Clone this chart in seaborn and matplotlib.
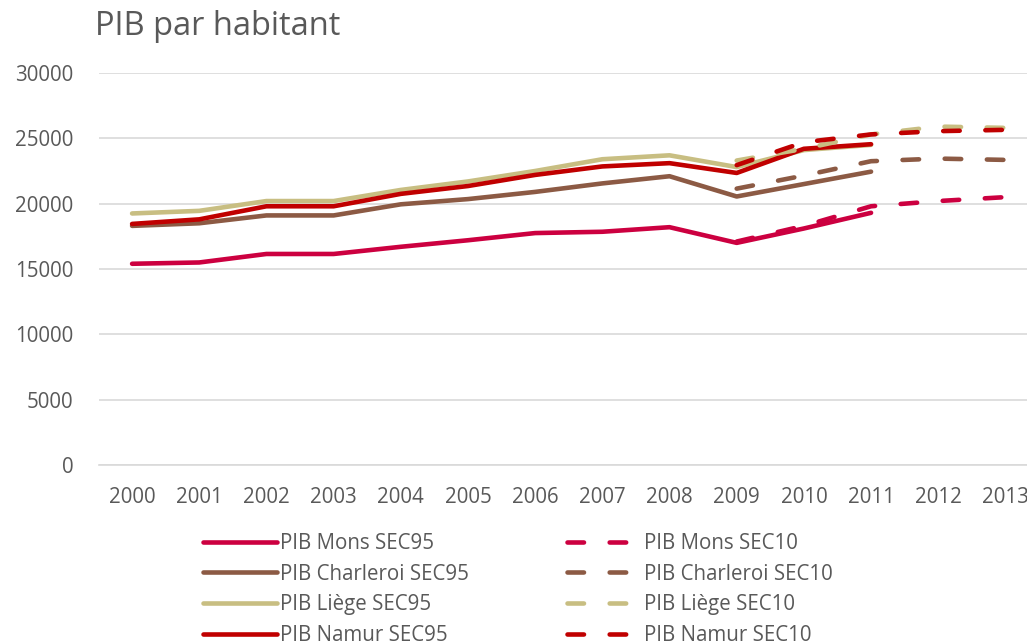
import matplotlib
matplotlib.use("Agg")
from matplotlib import pyplot as plt
import seaborn as sns
import numpy as np
import pandas as pd

years = [str(y) for y in range(2000, 2014)]
nan = np.nan

mons_sec95 = [15400, 15500, 16150, 16150, 16700, 17200, 17750, 17850, 18200, 17000, 18100, 19300, nan, nan]
charleroi_sec95 = [18300, 18500, 19100, 19100, 19950, 20350, 20900, 21550, 22100, 20550, 21500, 22450, nan, nan]
liege_sec95 = [19250, 19450, 20200, 20200, 21050, 21700, 22500, 23400, 23700, 22800, 24100, 24500, nan, nan]
namur_sec95 = [18450, 18800, 19800, 19800, 20750, 21350, 22200, 22850, 23100, 22350, 24200, 24550, nan, nan]

mons_sec10 = [nan] * 9 + [17100, 18300, 19800, 20200, 20500]
charleroi_sec10 = [nan] * 9 + [21150, 22150, 23250, 23450, 23350]
liege_sec10 = [nan] * 9 + [23300, 24200, 25300, 25900, 25800]
namur_sec10 = [nan] * 9 + [22950, 24700, 25300, 25550, 25650]

series = [
    ("PIB Mons SEC95", mons_sec95, "#CC0040", False),
    ("PIB Charleroi SEC95", charleroi_sec95, "#8C5A44", False),
    ("PIB Liège SEC95", liege_sec95, "#C8BE82", False),
    ("PIB Namur SEC95", namur_sec95, "#C00000", False),
    ("PIB Mons SEC10", mons_sec10, "#CC0040", True),
    ("PIB Charleroi SEC10", charleroi_sec10, "#8C5A44", True),
    ("PIB Liège SEC10", liege_sec10, "#C8BE82", True),
    ("PIB Namur SEC10", namur_sec10, "#C00000", True),
]

sns.set_theme(style="white")
plt.rcParams['font.family'] = ['Open Sans', 'DejaVu Sans']
grey = "#595959"
fs = 14.8

fig = plt.figure(figsize=(10.27, 6.44), dpi=100)
# plot area runs past the right edge, as in the original (last label is cut)
ax = fig.add_axes([98.5 / 1027, 1 - 465 / 644, (1039 - 98.5) / 1027, (465 - 73) / 644])

x = np.arange(len(years))
for name, vals, col, dashed in series:
    df = pd.DataFrame({"x": x, "y": vals}).dropna()
    sns.lineplot(data=df, x="x", y="y", ax=ax, color=col, lw=3.3, label=name,
                 solid_capstyle="round", dash_capstyle="round")
    if dashed:
        ax.lines[-1].set_dashes((3.6, 5.6))

ax.set_xlim(-0.5, len(years) - 0.5)
ax.set_ylim(0, 30000)
ax.set_yticks(np.arange(0, 30001, 5000))
ax.set_xticks(x)
ax.set_xticklabels(years)
ax.set_xlabel("")
ax.set_ylabel("")
ax.yaxis.grid(True, color="#D9D9D9", lw=1.2)
ax.set_axisbelow(True)
for s in ["top", "right", "left"]:
    ax.spines[s].set_visible(False)
ax.spines["bottom"].set_color("#D9D9D9")
ax.spines["bottom"].set_linewidth(1.2)
ax.tick_params(axis="both", length=0, labelsize=fs, colors=grey)
ax.tick_params(axis="y", pad=18)
ax.tick_params(axis="x", pad=15.5)

fig.text(95 / 1027, 1 - 35 / 644, "PIB par habitant", fontsize=23.5, color=grey, va="baseline", ha="left")

leg = ax.legend(loc="upper left", bbox_to_anchor=(203 / 1027, 1 - 533 / 644), bbox_transform=fig.transFigure,
                ncol=2, frameon=False, fontsize=fs, handlelength=3.6, handletextpad=0.15,
                columnspacing=4.75, labelspacing=0.47, borderaxespad=0, borderpad=0)
for t in leg.get_texts():
    t.set_color(grey)

fig.savefig("out.png", dpi=100)
